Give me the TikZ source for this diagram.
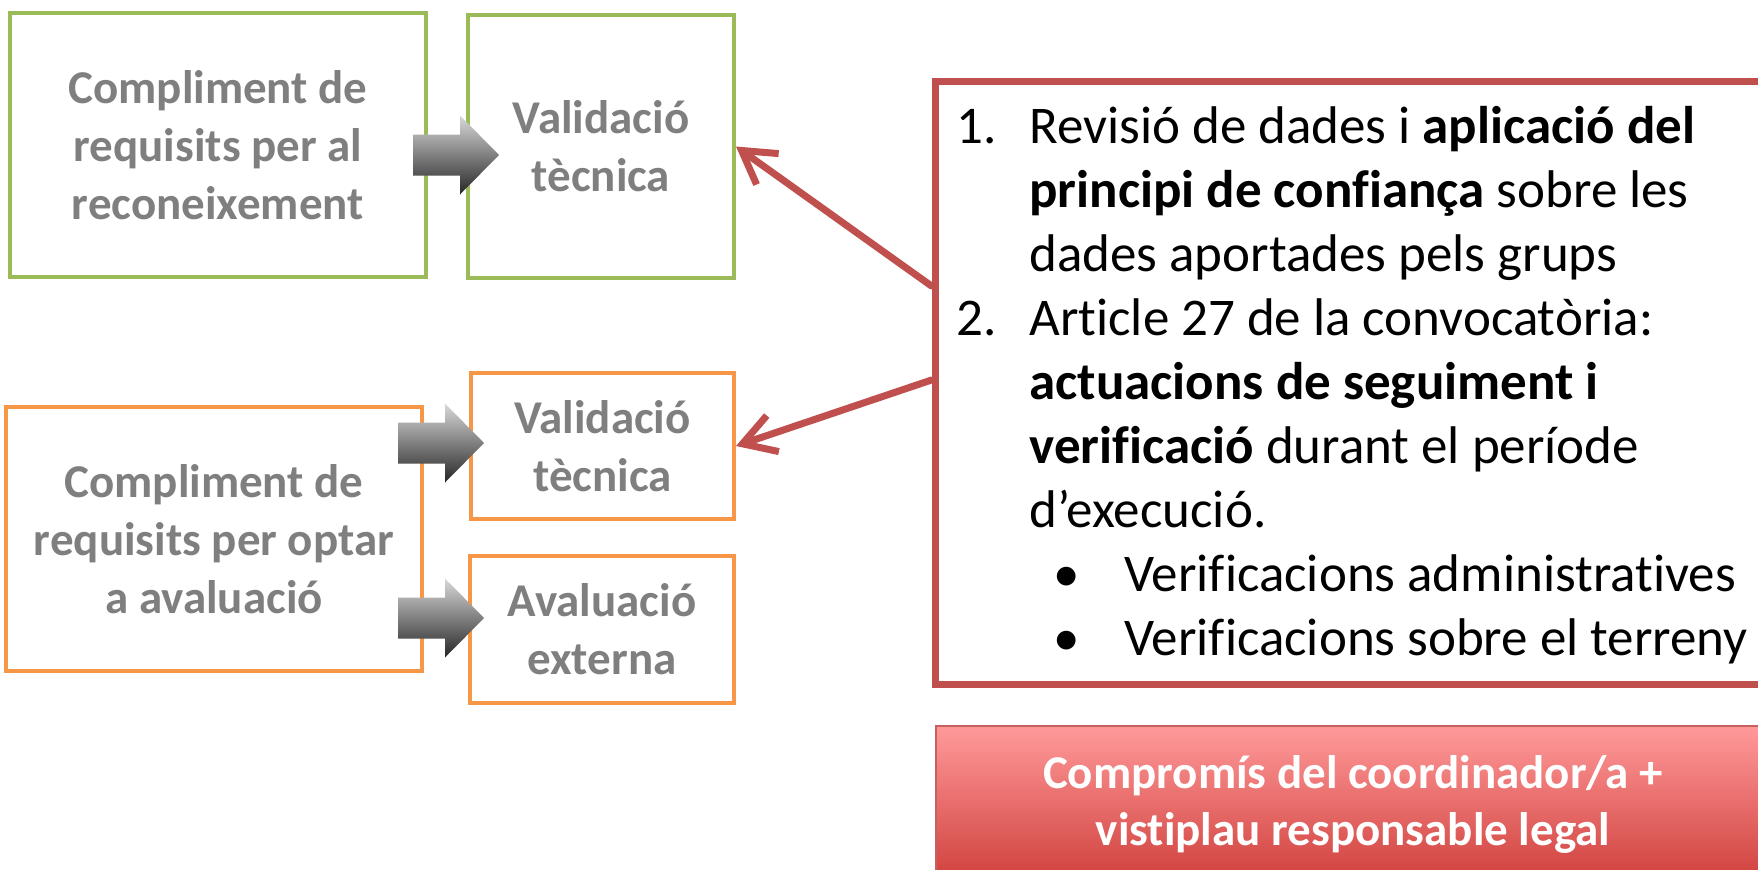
\documentclass[tikz,border=0pt]{standalone}
\usepackage{fontspec}
\setmainfont{Carlito}[RawFeature={-liga;-clig;-dlig;-calt}]
\usetikzlibrary{arrows.meta}
\definecolor{boxgreen}{HTML}{9BBB59}
\definecolor{boxorange}{HTML}{F79646}
\definecolor{boxred}{HTML}{C0504D}
\definecolor{textgray}{HTML}{7F7F7F}
\definecolor{pinktop}{HTML}{FF9A9A}
\definecolor{pinkbottom}{HTML}{CF3F3B}

\begin{document}
\begin{tikzpicture}[x=0.5pt,y=-0.5pt,>={Straight Barb[length=16pt,width=19pt]},
  stepbox/.style={draw,line width=2pt,fill=white,text=textgray,align=center,
    font=\bfseries\fontsize{23.5}{29}\selectfont,inner sep=0pt},
  greenbox/.style={stepbox,draw=boxgreen},
  orangebox/.style={stepbox,draw=boxorange},
  redline/.style={draw=boxred,line width=3.5pt,line cap=round}]

        % page size of the slide
        \useasboundingbox (0,0) rectangle (1758,869);
        \clip (0,0) rectangle (1758,869);

        % boxes for the recognition
        \node[greenbox,minimum width=208pt,minimum height=132pt] (reconBox) at (218,145)
              {Compliment de\\requisits per al\\reconeixement};
        \node[greenbox,minimum width=133pt,minimum height=131.5pt] (valBoxA) at (601,146.5)
              {Validació\\tècnica};

        % boxes for the evaluation
        \node[orangebox,minimum width=208pt,minimum height=132pt] (optarBox) at (214,539)
              {Compliment de\\requisits per optar\\a avaluació};
        \node[orangebox,minimum width=131.5pt,minimum height=73pt] (valBoxB) at (602.5,446)
              {Validació\\tècnica};
        \node[orangebox,minimum width=132pt,minimum height=73.5pt] (avalBox) at (602,629.5)
              {Avaluació\\externa};

        % grey block arrows between the boxes
        \foreach \ax/\ay in {413/155,398/443,398/618}
          \shade[top color=black!15,bottom color=black!85]
            (\ax,\ay-20.5) -- (\ax+47,\ay-20.5) -- (\ax+47,\ay-39.5) -- (\ax+86,\ay)
            -- (\ax+47,\ay+39.5) -- (\ax+47,\ay+20.5) -- (\ax,\ay+20.5) -- cycle;

        % red box with the checks
        \node[draw=boxred,line width=3.5pt,minimum width=417.5pt,minimum height=301.5pt]
              (verifBox) at (1352.5,382.5) {};
        \node[anchor=base west,inner sep=0pt,font=\fontsize{26.5}{32}\selectfont]
              (verifText) at (956,143) {%
        \begin{tabular}[t]{@{}p{36.5pt}@{}l@{}}
        1. & Revisió de dades i \textbf{aplicació del}\\
           & \textbf{principi de confiança} sobre les\\
           & dades aportades pels grups\\
        2. & Article 27 de la convocatòria:\\
           & \textbf{actuacions de seguiment i}\\
           & \textbf{verificació} durant el període\\
           & d’execució.\\
           & \hspace{12pt}\makebox[35.5pt][l]{•}Verificacions administratives\\
           & \hspace{12pt}\makebox[35.5pt][l]{•}Verificacions sobre el terreny
        \end{tabular}};

        % red arrows to the validation boxes
        \draw[redline,->] ([yshift=48.25pt]verifBox.west) -- (valBoxA.east);
        \draw[redline,->] ([yshift=1.25pt]verifBox.west) -- (valBoxB.east);

        % commitment box
        \node[top color=pinktop,bottom color=pinkbottom,draw=boxred!90,line width=1pt,
              minimum width=417pt,minimum height=78.5pt,text=white,align=center,
              font=\bfseries\fontsize{23.5}{28.5}\selectfont,inner sep=0pt]
              (commitBox) at (1353,804.5)
              {Compromís del coordinador/a +\\vistiplau responsable legal};

\end{tikzpicture}
\end{document}
